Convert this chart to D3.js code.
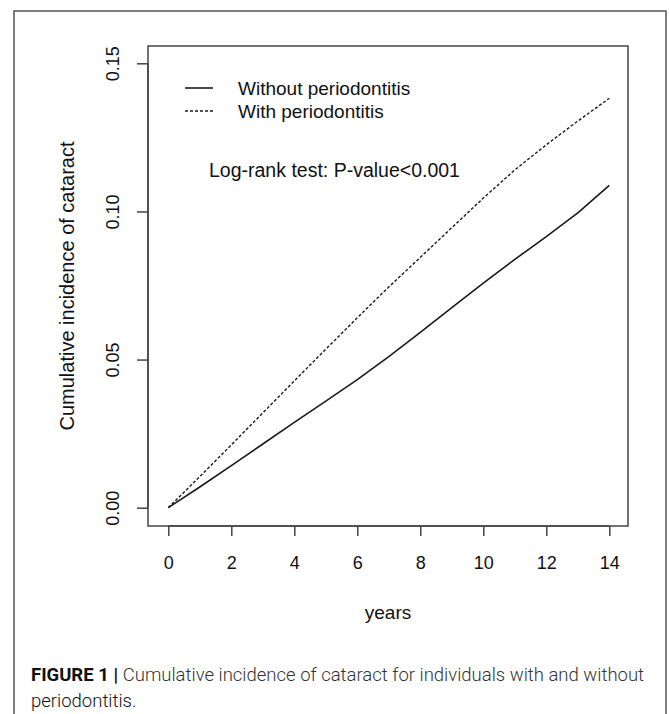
<!DOCTYPE html>
<html>
<head>
<meta charset="utf-8">
<script src="https://cdn.jsdelivr.net/npm/d3@7"></script>
<style>
  body { margin: 0; background: #fff; }
  svg text { font-family: Arial, "Liberation Sans", sans-serif; fill: #111; }
</style>
</head>
<body>
<div id="chart"></div>
<script>
// data
var years = [0, 1, 2, 3, 4, 5, 6, 7, 8, 9, 10, 11, 12, 13, 14];
var withoutPerio = [0, 0.0070, 0.0142, 0.0215, 0.0288, 0.0360, 0.0432, 0.0510, 0.0592, 0.0675, 0.0758, 0.0838, 0.0915, 0.0995, 0.1088];
var withPerio = [0, 0.0105, 0.0212, 0.0320, 0.0428, 0.0535, 0.0641, 0.0745, 0.0845, 0.0945, 0.1045, 0.1140, 0.1225, 0.1305, 0.1382];
var xTicks = [0, 2, 4, 6, 8, 10, 12, 14];
var yTicks = [0, 0.05, 0.10, 0.15];
var seriesNames = ["Without periodontitis", "With periodontitis"];

var W = 669, H = 714;
var box = { left: 148, right: 628, top: 46, bottom: 526 };

var svg = d3.select("#chart").append("svg")
  .attr("width", W)
  .attr("height", H);

// outer figure frame (open at the bottom)
svg.append("path")
  .attr("d", "M14," + (H + 2) + "V11H666V" + (H + 2))
  .attr("fill", "none")
  .attr("stroke", "#555")
  .attr("stroke-width", 1.5);

var x = d3.scaleLinear().domain([0, 14]).range([168.3, 609.3]);
var y = d3.scaleLinear().domain([0, 0.15]).range([507.7, 63.3]);

// plot box
svg.append("rect")
  .attr("x", box.left).attr("y", box.top)
  .attr("width", box.right - box.left)
  .attr("height", box.bottom - box.top)
  .attr("fill", "none")
  .attr("stroke", "#444")
  .attr("stroke-width", 1.5);

// x axis
var xAxis = svg.append("g")
  .attr("transform", "translate(0," + box.bottom + ")")
  .call(d3.axisBottom(x).tickValues(xTicks).tickSize(10).tickSizeOuter(0).tickPadding(20).tickFormat(d3.format("d")));
xAxis.select(".domain").attr("d", "M" + x(0) + ",0H" + x(14)).attr("stroke", "#444").attr("stroke-width", 1.5);
xAxis.selectAll(".tick line").attr("stroke", "#444").attr("stroke-width", 1.5);
xAxis.selectAll(".tick text").attr("font-size", 18).attr("fill", "#111")
  .style("font-family", "Arial, 'Liberation Sans', sans-serif");

// y axis
var yAxis = svg.append("g")
  .attr("transform", "translate(" + box.left + ",0)")
  .call(d3.axisLeft(y).tickValues(yTicks).tickSize(11).tickSizeOuter(0).tickFormat(d3.format(".2f")));
yAxis.select(".domain").attr("d", "M0," + y(0) + "V" + y(0.15)).attr("stroke", "#444").attr("stroke-width", 1.5);
yAxis.selectAll(".tick line").attr("stroke", "#444").attr("stroke-width", 1.5);
yAxis.selectAll(".tick text")
  .attr("font-size", 18).attr("fill", "#111")
  .style("font-family", "Arial, 'Liberation Sans', sans-serif")
  .attr("x", null).attr("dy", null)
  .attr("text-anchor", "middle")
  .attr("dominant-baseline", "central")
  .attr("transform", "translate(-35,0) rotate(-90)");

// axis titles
svg.append("text")
  .attr("x", (box.left + box.right) / 2)
  .attr("y", 612)
  .attr("text-anchor", "middle")
  .attr("dominant-baseline", "central")
  .attr("font-size", 19)
  .text("years");

svg.append("text")
  .attr("transform", "translate(67," + (box.top + box.bottom) / 2 + ") rotate(-90)")
  .attr("text-anchor", "middle")
  .attr("dominant-baseline", "central")
  .attr("font-size", 20)
  .text("Cumulative incidence of cataract");

// curves
var line = d3.line()
  .x(function (d) { return x(d[0]); })
  .y(function (d) { return y(d[1]); });

svg.append("path")
  .datum(d3.zip(years, withoutPerio))
  .attr("d", line)
  .attr("fill", "none")
  .attr("stroke", "#1a1a1a")
  .attr("stroke-width", 1.6);

svg.append("path")
  .datum(d3.zip(years, withPerio))
  .attr("d", line)
  .attr("fill", "none")
  .attr("stroke", "#1a1a1a")
  .attr("stroke-width", 1.4)
  .attr("stroke-dasharray", "3,2");

// legend
var legend = svg.append("g");
seriesNames.forEach(function (name, i) {
  var ly = 88 + i * 23;
  legend.append("line")
    .attr("x1", 185).attr("x2", 213)
    .attr("y1", ly).attr("y2", ly)
    .attr("stroke", "#1a1a1a")
    .attr("stroke-width", i == 0 ? 1.6 : 1.4)
    .attr("stroke-dasharray", i == 0 ? null : "3,2");
  legend.append("text")
    .attr("x", 238).attr("y", ly)
    .attr("dominant-baseline", "central")
    .attr("font-size", 19)
    .text(name);
});

svg.append("text")
  .attr("x", 209).attr("y", 170)
  .attr("dominant-baseline", "central")
  .attr("font-size", 19.5)
  .text("Log-rank test: P-value<0.001");

// caption
var cap1 = svg.append("text")
  .attr("x", 31).attr("y", 681)
  .attr("font-size", 18.5)
  .style("font-family", "Roboto, 'Open Sans', sans-serif");
cap1.append("tspan").attr("font-weight", "bold").text("FIGURE 1 | ");
cap1.append("tspan").attr("font-weight", 300).attr("fill", "#333")
  .text("Cumulative incidence of cataract for individuals with and without");

svg.append("text")
  .attr("x", 31).attr("y", 707)
  .attr("font-size", 18.5)
  .attr("font-weight", 300)
  .attr("fill", "#333")
  .style("font-family", "Roboto, 'Open Sans', sans-serif")
  .text("periodontitis.");
</script>
</body>
</html>
